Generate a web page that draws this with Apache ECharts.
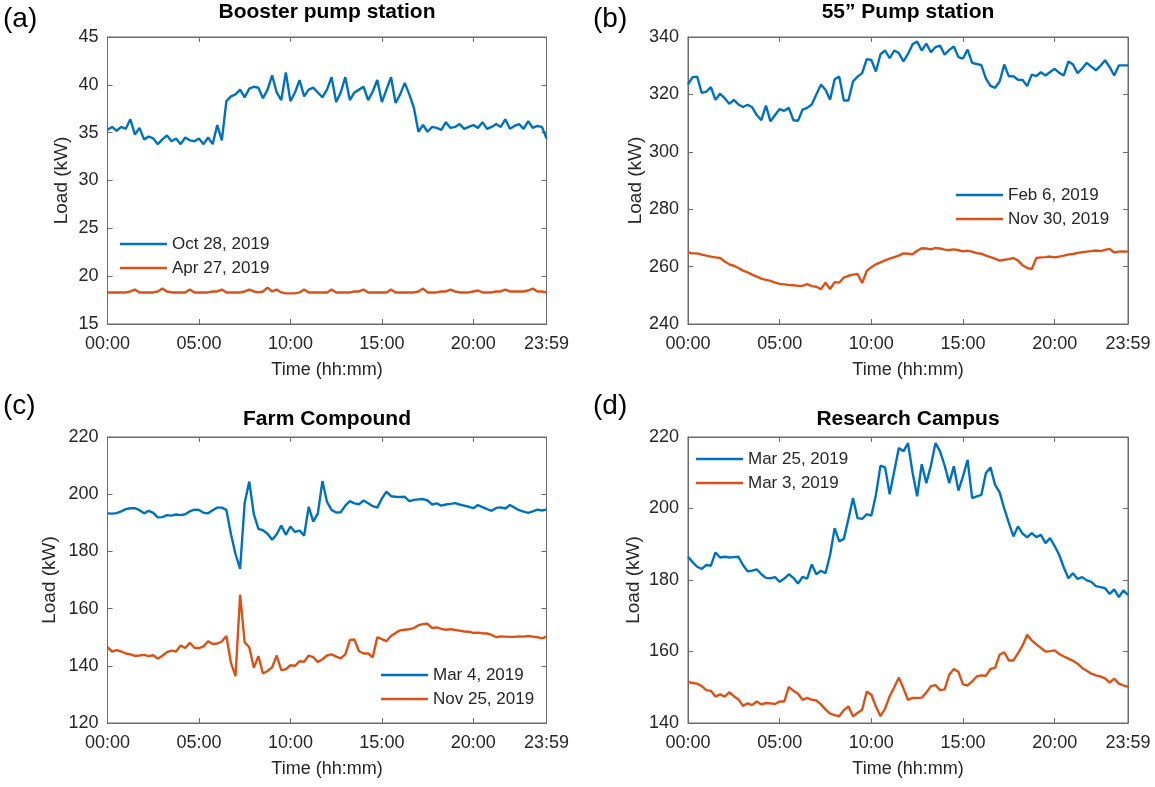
<!DOCTYPE html>
<html>
<head>
<meta charset="utf-8">
<script src="https://cdn.jsdelivr.net/npm/echarts@6/dist/echarts.min.js"></script>
<style>
html,body{margin:0;padding:0;background:#fff;}
#chart{width:1155px;height:787px;}
</style>
</head>
<body>
<div id="chart"></div>
<script>
// ---------- DATA ----------
// Time categories: every 15 minutes, last point 23:59
const timeLabels = [];
for (let i = 0; i < 96; i++) {
  const m = i * 15;
  timeLabels.push(String(Math.floor(m / 60)).padStart(2, '0') + ':' + String(m % 60).padStart(2, '0'));
}
timeLabels.push('23:59');
const tickLabelsShown = ['00:00', '05:00', '10:00', '15:00', '20:00', '23:59'];

const panelTitles = ['Booster pump station', '55\u201d Pump station', 'Farm Compound', 'Research Campus'];
const panelLetters = ['(a)', '(b)', '(c)', '(d)'];
const seriesNames = [
  ['Oct 28, 2019', 'Apr 27, 2019'],
  ['Feb 6, 2019', 'Nov 30, 2019'],
  ['Mar 4, 2019', 'Nov 25, 2019'],
  ['Mar 25, 2019', 'Mar 3, 2019']
];

// (a) Booster pump station
const boosterOct28 = [35.3,35.6,35.2,35.6,35.4,36.4,34.8,35.5,34.3,34.6,
  34.4,33.8,34.3,34.7,34.1,34.4,33.8,34.5,34.2,34.1,
  34.4,33.8,34.5,33.8,35.8,34.2,38.3,38.8,39.0,39.5,
  38.7,39.6,39.8,39.7,38.6,39.5,41.0,39.2,38.4,41.3,
  38.3,39.2,40.5,38.8,39.5,39.7,39.2,38.7,39.5,40.8,
  38.2,39.2,40.8,38.4,39.2,39.5,39.8,38.4,39.3,40.5,
  38.2,39.5,40.8,38.1,39.0,40.2,39.0,37.6,35.1,35.8,
  35.1,35.6,35.5,35.3,36.1,35.5,35.6,35.9,35.4,35.6,
  35.8,35.5,36.1,35.4,35.6,35.9,35.6,36.4,35.4,35.7,
  35.9,35.4,36.2,35.5,35.7,35.6,34.4];
const boosterApr27 = [18.3,18.3,18.3,18.3,18.3,18.4,18.6,18.3,18.3,18.3,
  18.3,18.4,18.7,18.4,18.3,18.3,18.3,18.3,18.6,18.3,
  18.3,18.3,18.3,18.4,18.4,18.6,18.3,18.3,18.3,18.3,
  18.4,18.6,18.4,18.3,18.4,18.8,18.4,18.6,18.3,18.2,
  18.2,18.2,18.3,18.6,18.3,18.3,18.3,18.3,18.3,18.6,
  18.3,18.3,18.3,18.3,18.4,18.4,18.6,18.3,18.3,18.3,
  18.3,18.3,18.6,18.3,18.3,18.3,18.3,18.3,18.4,18.7,
  18.3,18.3,18.3,18.4,18.4,18.6,18.4,18.3,18.3,18.3,
  18.4,18.5,18.3,18.3,18.3,18.4,18.4,18.6,18.4,18.4,
  18.4,18.4,18.5,18.7,18.4,18.4,18.3];

// (b) 55" Pump station
const pumpFeb6 = [323.5,326.0,326.2,320.5,321.0,322.5,318.1,320.2,318.7,316.7,
  318.1,316.5,315.6,316.4,315.5,312.8,311.0,316.1,310.6,312.8,
  314.9,314.3,315.3,311.0,310.8,314.7,315.3,316.5,320.0,323.4,
  321.6,318.1,325.3,326.2,317.9,317.9,324.5,326.2,327.4,332.3,
  332.0,328.0,334.0,335.3,332.6,335.3,334.4,331.5,334.1,337.5,
  338.4,335.3,337.7,334.7,336.5,337.0,333.8,335.5,336.7,333.0,
  332.5,335.6,331.0,330.6,330.2,325.5,323.0,322.3,324.5,330.4,
  326.3,326.3,325.1,325.0,322.9,326.9,326.4,327.7,326.6,327.8,
  328.9,327.5,326.6,331.5,330.4,327.4,329.0,331.0,329.7,328.4,
  330.0,331.9,329.5,326.6,330.1,330.1,330.1];
const pumpNov30 = [264.9,264.6,264.6,264.2,263.8,263.5,263.2,263.0,261.8,260.8,
  260.3,259.5,258.6,258.0,257.2,256.5,255.8,255.4,255.0,254.4,
  254.0,253.8,253.6,253.5,253.3,253.3,253.9,253.2,253.0,252.1,
  254.4,252.2,254.6,254.4,256.2,256.8,257.2,257.4,254.3,258.5,
  259.8,260.8,261.5,262.2,262.8,263.3,263.8,264.6,264.5,264.3,
  265.5,266.4,266.3,266.0,266.5,266.3,265.9,265.8,266.0,265.7,
  265.3,265.5,265.2,264.7,264.5,263.8,263.3,262.8,262.1,262.4,
  262.6,263.0,262.1,260.5,259.5,259.1,263.0,263.2,263.3,263.5,
  263.2,263.5,263.8,264.2,264.4,264.8,265.0,265.2,265.4,265.6,
  265.4,265.8,266.2,264.9,265.2,265.3,265.2];

// (c) Farm Compound
const farmMar4 = [193.3,193.2,193.4,194.0,194.8,195.1,195.1,194.4,193.3,194.2,
  193.5,191.9,192.0,192.7,192.5,192.9,192.7,193.0,194.0,194.6,
  194.5,193.5,193.3,194.4,195.3,195.3,194.5,186.0,179.0,173.9,
  197.0,204.4,193.0,187.9,187.4,186.2,184.1,186.0,189.0,185.8,
  188.7,186.8,187.3,185.5,195.6,190.4,193.3,204.6,197.3,194.5,
  193.6,193.7,196.0,197.6,196.8,196.5,197.8,196.8,195.8,195.3,
  198.5,200.9,199.3,199.1,199.0,199.1,197.6,198.0,198.2,198.3,
  197.8,196.4,196.8,196.0,196.4,196.6,196.9,196.4,196.0,195.6,
  195.1,196.2,195.5,194.8,194.2,195.2,195.4,195.0,196.2,195.3,
  194.4,193.9,193.5,194.0,194.6,194.3,194.6];
const farmNov25 = [146.5,145.0,145.5,145.0,144.3,144.0,143.5,143.6,143.8,143.4,
  143.7,142.5,143.5,144.8,145.3,145.0,147.1,146.2,148.0,146.3,
  146.2,146.8,148.6,147.6,147.8,148.5,150.4,141.0,136.4,164.9,
  148.2,146.5,139.3,143.4,137.3,138.2,139.5,143.6,138.5,138.8,
  140.2,140.0,141.6,141.4,143.6,143.0,141.3,142.3,143.6,144.0,
  143.2,142.6,144.0,149.0,149.2,145.1,144.3,144.3,143.0,150.0,
  149.3,148.6,150.4,151.5,152.4,152.6,152.8,153.2,154.2,154.6,
  154.7,153.2,153.4,152.9,152.6,152.8,152.5,152.3,152.0,151.9,
  151.5,151.6,151.4,151.3,150.8,150.0,150.3,150.2,150.1,150.1,
  150.3,150.2,150.4,150.2,150.0,149.6,150.2];

// (d) Research Campus
const campusMar25 = [186.5,185.0,183.7,183.1,184.2,184.0,187.7,186.3,186.5,186.3,
  186.4,186.5,184.2,182.4,182.6,183.0,181.6,180.6,180.5,180.8,
  179.5,180.4,181.6,180.6,179.0,180.9,180.4,184.4,181.6,182.6,
  181.9,187.0,194.5,190.8,191.5,197.1,202.9,197.3,197.1,198.4,
  198.0,203.8,212.0,211.5,204.0,210.4,216.9,216.0,218.3,210.0,
  203.4,212.4,207.1,212.0,218.3,216.0,212.0,207.1,211.8,205.0,
  209.0,213.6,202.9,203.4,203.8,209.9,211.5,206.6,204.5,200.0,
  196.0,192.2,195.0,193.0,191.9,193.1,192.0,192.6,190.3,191.7,
  189.5,187.0,183.5,180.5,181.9,180.3,180.8,179.9,179.5,178.3,
  178.0,177.7,176.1,177.4,175.2,177.1,175.8];
const campusMar3 = [151.5,151.2,151.0,150.3,149.2,149.0,147.4,148.0,147.4,148.6,
  147.5,146.6,144.8,145.5,145.0,146.0,145.2,145.6,145.5,145.3,
  146.0,146.0,150.1,149.0,148.2,146.5,147.0,146.5,146.3,145.2,
  143.8,142.6,142.2,141.9,143.6,144.6,141.9,142.8,143.7,148.8,
  147.9,144.6,141.9,144.0,147.5,150.0,152.7,149.7,146.5,147.0,
  147.0,147.1,148.5,150.3,150.6,149.2,149.4,153.5,155.1,154.3,
  150.8,150.5,151.6,153.0,153.3,153.2,155.1,155.4,159.1,159.8,
  157.5,157.5,159.5,161.7,164.7,163.1,162.0,161.0,160.0,160.1,
  160.3,159.3,158.6,158.0,157.4,156.6,155.4,154.6,153.8,153.3,
  153.0,152.5,151.3,152.4,151.0,150.5,150.1];

const yMins = [15, 240, 120, 140];
const yMaxs = [45, 340, 220, 220];
const yIntervals = [5, 20, 20, 20];
const panelData = [
  [boosterOct28, boosterApr27],
  [pumpFeb6, pumpNov30],
  [farmMar4, farmNov25],
  [campusMar25, campusMar3]
];

// ---------- LAYOUT ----------
const gridRects = [
  {left: 107.5, top: 37, width: 439, height: 287},
  {left: 688, top: 37, width: 440, height: 287},
  {left: 107.5, top: 437, width: 439, height: 286},
  {left: 688, top: 437, width: 440, height: 286}
];
const yNameGaps = [36, 43, 48, 45];
const legendPos = [
  {left: 120, top: 234},
  {left: 956, top: 185},
  {left: 381, top: 665},
  {left: 696, top: 449}
];
const letterPos = [
  {left: 3, top: 5}, {left: 593, top: 5}, {left: 3, top: 392}, {left: 593, top: 392}
];
const titleTops = [2, 2, 409, 409];

const BLUE = '#0072BD', ORANGE = '#D95319';
const AXIS_COLOR = '#6b6b6b', TEXT_COLOR = '#262626';
const FONT = 'Liberation Sans, Arial, Helvetica, sans-serif';

const labelShown = (i) => i % 20 === 0 || i === timeLabels.length - 1;

const grid = [], xAxis = [], yAxis = [], series = [], legend = [], title = [];
for (let p = 0; p < 4; p++) {
  grid.push(Object.assign({show: true, borderColor: AXIS_COLOR, borderWidth: 1, containLabel: false}, gridRects[p]));
  // bottom x axis
  xAxis.push({
    type: 'category', gridIndex: p, data: timeLabels, boundaryGap: false,
    position: 'bottom',
    name: 'Time (hh:mm)', nameLocation: 'middle', nameGap: 37,
    nameTextStyle: {fontSize: 18, color: TEXT_COLOR, fontFamily: FONT},
    axisLine: {show: true, lineStyle: {color: AXIS_COLOR, width: 1}},
    axisTick: {show: true, inside: true, length: 5, interval: (i) => labelShown(i), lineStyle: {color: AXIS_COLOR}},
    axisLabel: {interval: (i) => labelShown(i), fontSize: 18, color: TEXT_COLOR, fontFamily: FONT, margin: 11,
      showMaxLabel: true},
    splitLine: {show: false}
  });
  // mirrored top x axis (ticks only)
  xAxis.push({
    type: 'category', gridIndex: p, data: timeLabels, boundaryGap: false, position: 'top',
    axisLine: {show: true, lineStyle: {color: AXIS_COLOR, width: 1}},
    axisTick: {show: true, inside: true, length: 5, interval: (i) => labelShown(i), lineStyle: {color: AXIS_COLOR}},
    axisLabel: {show: false}, splitLine: {show: false}
  });
  yAxis.push({
    type: 'value', gridIndex: p, min: yMins[p], max: yMaxs[p], interval: yIntervals[p], position: 'left',
    name: 'Load (kW)', nameLocation: 'middle', nameGap: yNameGaps[p],
    nameTextStyle: {fontSize: 19, color: TEXT_COLOR, fontFamily: FONT},
    axisLine: {show: true, lineStyle: {color: AXIS_COLOR, width: 1}},
    axisTick: {show: true, inside: true, length: 5, lineStyle: {color: AXIS_COLOR}},
    axisLabel: {fontSize: 18, color: TEXT_COLOR, fontFamily: FONT, margin: 9},
    splitLine: {show: false}
  });
  yAxis.push({
    type: 'value', gridIndex: p, min: yMins[p], max: yMaxs[p], interval: yIntervals[p], position: 'right',
    axisLine: {show: true, lineStyle: {color: AXIS_COLOR, width: 1}},
    axisTick: {show: true, inside: true, length: 5, lineStyle: {color: AXIS_COLOR}},
    axisLabel: {show: false}, splitLine: {show: false}
  });
  const colors = [BLUE, ORANGE];
  for (let s = 0; s < 2; s++) {
    series.push({
      type: 'line', name: seriesNames[p][s], xAxisIndex: p * 2, yAxisIndex: p * 2,
      data: panelData[p][s], showSymbol: false, symbol: 'none', smooth: false,
      lineStyle: {color: colors[s], width: 2.4}, itemStyle: {color: colors[s]},
      animation: false, z: s === 0 ? 3 : 2
    });
  }
  legend.push(Object.assign({
    data: seriesNames[p], orient: 'vertical', icon: 'rect', itemWidth: 47, itemHeight: 2.5,
    itemGap: 4, padding: 0,
    textStyle: {fontSize: 17, color: TEXT_COLOR, fontFamily: FONT, lineHeight: 20},
    selectedMode: false
  }, legendPos[p]));
  title.push({
    text: panelTitles[p], left: gridRects[p].left + gridRects[p].width / 2, top: titleTops[p], textAlign: 'center',
    textStyle: {fontSize: 21, fontWeight: 'bold', color: '#000', fontFamily: FONT}, padding: 0
  });
  title.push(Object.assign({
    text: panelLetters[p], padding: 0,
    textStyle: {fontSize: 28, fontWeight: 'normal', color: '#000', fontFamily: FONT}
  }, letterPos[p]));
}

const chart = echarts.init(document.getElementById('chart'), null, {renderer: 'canvas'});
chart.setOption({
  backgroundColor: '#fff',
  animation: false,
  title, grid, xAxis, yAxis, series, legend
});
</script>
</body>
</html>
